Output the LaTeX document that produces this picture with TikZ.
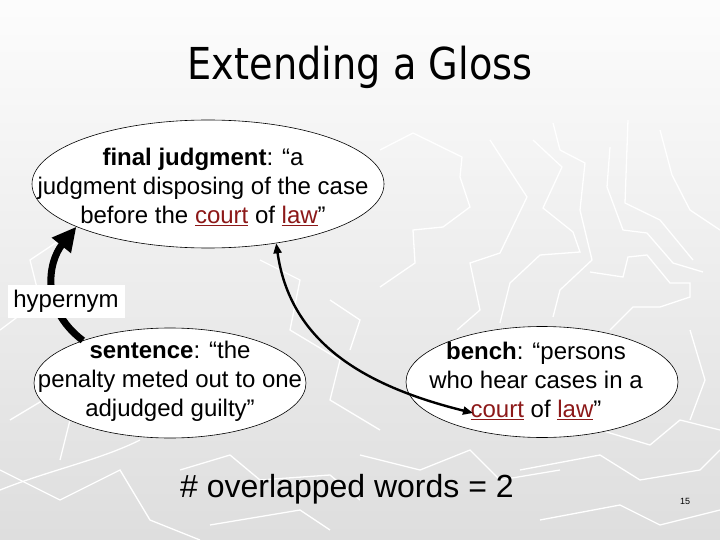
\documentclass[tikz,border=0pt]{standalone}
\usepackage{fontspec}
\setmainfont{Liberation Sans}
\newfontfamily\titlefont{DejaVu Sans}
\usetikzlibrary{arrows.meta,shapes.geometric}
\definecolor{linkred}{RGB}{140,24,24}
\newcommand\lnk[1]{\textcolor{linkred}{\underline{#1}}}
\tikzset{
  bgline/.style={white, line width=1.3pt, line join=miter},
  gloss/.style={ellipse, draw=black, line width=0.6pt, fill=white, inner sep=0pt},
  glosstext/.style={align=center, inner sep=0pt, font=\fontsize{24}{28.8}\selectfont},
  titletext/.style={anchor=base, inner sep=0pt, font=\titlefont\fontsize{44}{52}\selectfont},
  hyp/.style={fill=white, inner sep=0pt, minimum width=117pt, minimum height=33pt, font=\fontsize{24}{28.8}\selectfont},
  thickarrow/.style={line width=7pt, -{Triangle[length=24pt,width=23pt]}},
  linkarrow/.style={line width=2.4pt, {Triangle[length=10pt,width=8pt]}-{Triangle[length=10pt,width=8pt]}}
}
\begin{document}
\begin{tikzpicture}[x=1pt,y=-1pt]
\useasboundingbox (0,0) rectangle (720,540);
\shade[top color=white!99!black, bottom color=white!87!black] (0,0) rectangle (720,540);
% background zigzag texture
\draw[bgline] (380,150) -- (413,133) -- (462,157) -- (460,177) -- (470,207) -- (443,227) -- (413,230) -- (415,263) -- (380,287);
\draw[bgline] (490,140) -- (527,197) -- (500,253) -- (470,263) -- (480,310) -- (457,330);
\draw[bgline] (533,140) -- (562,167) -- (543,208) -- (573,232) -- (580,252) -- (540,255) -- (510,283) -- (500,323);
\draw[bgline] (553,123) -- (560,150) -- (585,163) -- (580,210) -- (592,260) -- (560,290) -- (553,317);
\draw[bgline] (610,147) -- (607,187) -- (623,230) -- (647,233) -- (673,263) -- (703,272);
\draw[bgline] (628,120) -- (625,203) -- (660,220) -- (693,260);
\draw[bgline] (590,272) -- (623,277) -- (628,257) -- (647,255) -- (670,283) -- (690,283) -- (690,297) -- (660,307) -- (633,307) -- (610,330);
\draw[bgline] (660,130) -- (672,175) -- (690,210) -- (720,230);
\draw[bgline] (0,330) -- (40,300) -- (30,260) -- (60,240);
\draw[bgline] (260,260) -- (300,280) -- (290,330) -- (340,360) -- (330,400) -- (380,430);
\draw[bgline] (0,470) -- (60,500) -- (120,470) -- (150,520) -- (200,540);
\draw[bgline] (180,470) -- (230,455) -- (260,480) -- (330,475) -- (360,500);
\draw[bgline] (210,525) -- (300,510) -- (330,530);
\draw[bgline] (360,455) -- (420,470) -- (470,450) -- (500,480) -- (560,470);
\draw[bgline] (520,470) -- (600,455) -- (640,480) -- (700,470) -- (720,450);
\draw[bgline] (540,520) -- (620,505) -- (660,525) -- (720,510);
\draw[bgline] (600,430) -- (650,445) -- (680,420) -- (720,430);
\draw[bgline] (690,330) -- (705,380) -- (690,420);
\draw[bgline] (330,300) -- (360,320) -- (350,350);
\draw[bgline] (10,420) -- (60,390) -- (95,430);
\draw[bgline] (0,490) .. controls (50,470) and (100,460) .. (140,440);
\draw[bgline] (60,350) -- (75,400) -- (60,460);
% title
\node[titletext] (title) at (360,80) {\scalebox{0.87}[1]{Extending a Gloss}};
% ellipses
\node[gloss, minimum width=352pt, minimum height=128pt] (fj) at (208,184) {};
\node[gloss, minimum width=272pt, minimum height=110pt] (sen) at (170,383) {};
\node[gloss, minimum width=272pt, minimum height=111pt] (bn) at (542,382) {};
\node[glosstext] (fjt) at (203,187) {\textbf{final judgment}: “a\\judgment disposing of the case\\before the \lnk{court} of \lnk{law}”};
\node[glosstext] (sent) at (170,381) {\textbf{sentence}: “the\\penalty meted out to one\\adjudged guilty”};
\node[glosstext] (bnt) at (536,381) {\textbf{bench}: “persons\\who hear cases in a\\\lnk{court} of \lnk{law}”};
% connectors
\draw[thickarrow] (sen.154) .. controls (40,308) and (48,262) .. (fj.198);
\node[hyp] (hy) at (66,301) {hypernym};
\path (bn) ++(-69,31) coordinate (bc);
\draw[linkarrow] (fj.-41) .. controls (290,340) and (360,385) .. (bc);
% footer
\node[anchor=base, inner sep=0pt, font=\fontsize{32}{38}\selectfont] (ov) at (347,497) {\# overlapped words = 2};
\node[anchor=base, inner sep=0pt, font=\fontsize{9}{11}\selectfont] (pg) at (685,504) {15};
\end{tikzpicture}
\end{document}
